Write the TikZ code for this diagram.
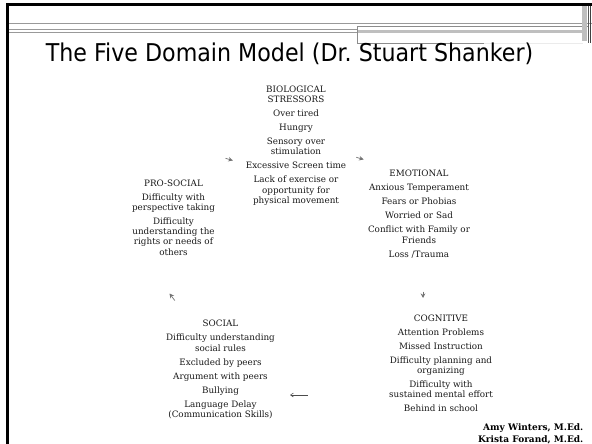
\documentclass[tikz,border=0pt]{standalone}
\usepackage{fontspec}
\setmainfont{DejaVu Serif}
\newfontfamily\titlesans{DejaVu Sans}
\usetikzlibrary{arrows.meta}
\frenchspacing
\begin{document}
\begin{tikzpicture}[x=1pt,y=-1pt,
  domainbox/.style={align=center, inner sep=0pt, anchor=north,
    font=\fontsize{8.8}{10.2}\selectfont, text=black!90},
  cue/.style={-{Stealth[length=4.5pt,width=4.5pt,inset=1.5pt]}, draw=black!55, line width=0.7pt},
  longcue/.style={-{Straight Barb[length=3pt,width=4pt]}, draw=black!70, line width=0.5pt},
  frameline/.style={draw=black!40, line width=0.8pt},
]
\useasboundingbox (0,0) rectangle (592,444);
\fill[white] (0,0) rectangle (592,444);

% slide frame
\draw[line width=3pt] (7.5,444) -- (7.5,4.7) -- (592,4.7);
\draw[frameline] (9,23.3) -- (592,23.3);
\draw[frameline] (9,29.5) -- (357,29.5);
\draw[frameline] (9,32.5) -- (357,32.5);
\fill[black!25] (357,30.3) rectangle (584,32.7);
\draw[draw=black!45, line width=0.8pt] (357,43.5) -- (357,26.7) -- (588,26.7);
\draw[draw=black!45, line width=0.8pt] (357,43.5) -- (484,43.5);
\draw[draw=black!8, line width=0.8pt] (484,43.5) -- (583,43.5);
\fill[black!25] (582,6) rectangle (587,41);
\draw[draw=black!65, line width=0.9pt] (588,6) -- (588,43.5);
\draw[draw=black!75, line width=0.9pt] (590.7,6) -- (590.7,43.5);

% title
\node (title) [anchor=base, inner sep=0pt, font=\titlesans\fontsize{24.5}{24.5}\selectfont]
  at (289.5,61.5) {\scalebox{0.905}[1]{The Five Domain Model (Dr. Stuart Shanker)}};

% the five domains
\node (bio) [domainbox] at (296,85.8) {BIOLOGICAL\\STRESSORS\\[3.8pt]Over tired\\[3.8pt]Hungry\\[3.8pt]Sensory over\\stimulation\\[3.8pt]Excessive Screen time\\[3.8pt]Lack of exercise or\\opportunity for\\physical movement};

\node (emo) [domainbox] at (419,170.1) {EMOTIONAL\\[3.8pt]Anxious Temperament\\[3.8pt]Fears or Phobias\\[3.8pt]Worried or Sad\\[3.8pt]Conflict with Family or\\Friends\\[3.8pt]Loss /Trauma};

\node (cog) [domainbox] at (441,314.5) {COGNITIVE\\[3.8pt]Attention Problems\\[3.8pt]Missed Instruction\\[3.8pt]Difficulty planning and\\organizing\\[3.8pt]Difficulty with\\sustained mental effort\\[3.8pt]Behind in school};

\node (soc) [domainbox] at (220.5,320.1) {SOCIAL\\[3.8pt]Difficulty understanding\\social rules\\[3.8pt]Excluded by peers\\[3.8pt]Argument with peers\\[3.8pt]Bullying\\[3.8pt]Language Delay\\(Communication Skills)};

\node (pro) [domainbox] at (173.5,179.5) {PRO-SOCIAL\\[3.8pt]Difficulty with\\perspective taking\\[3.8pt]Difficulty\\understanding the\\rights or needs of\\others};

% small cycle arrows between the domains
\coordinate (c1a) at (225.5,158.3);
\coordinate (c1b) at (232.8,160.5);
\coordinate (c2a) at (356.3,157.3);
\coordinate (c2b) at (363.6,159.5);
\coordinate (c3a) at (423,291.5);
\coordinate (c3b) at (423,298);
\coordinate (c4a) at (307.5,395);
\coordinate (c4b) at (290,395);
\coordinate (c5a) at (174.8,300.5);
\coordinate (c5b) at (169.5,293.5);
\draw[cue] (c1a) -- (c1b);
\draw[cue] (c2a) -- (c2b);
\draw[cue] (c3a) -- (c3b);
\draw[longcue] (c4a) -- (c4b);
\draw[cue] (c5a) -- (c5b);

% presenters
\node (authors) [anchor=base east, align=right, inner sep=0pt,
  font=\bfseries\fontsize{9}{11.5}\selectfont] at (583.5,442.3)
  {Amy Winters, M.Ed.\\Krista Forand, M.Ed.};
\end{tikzpicture}
\end{document}
